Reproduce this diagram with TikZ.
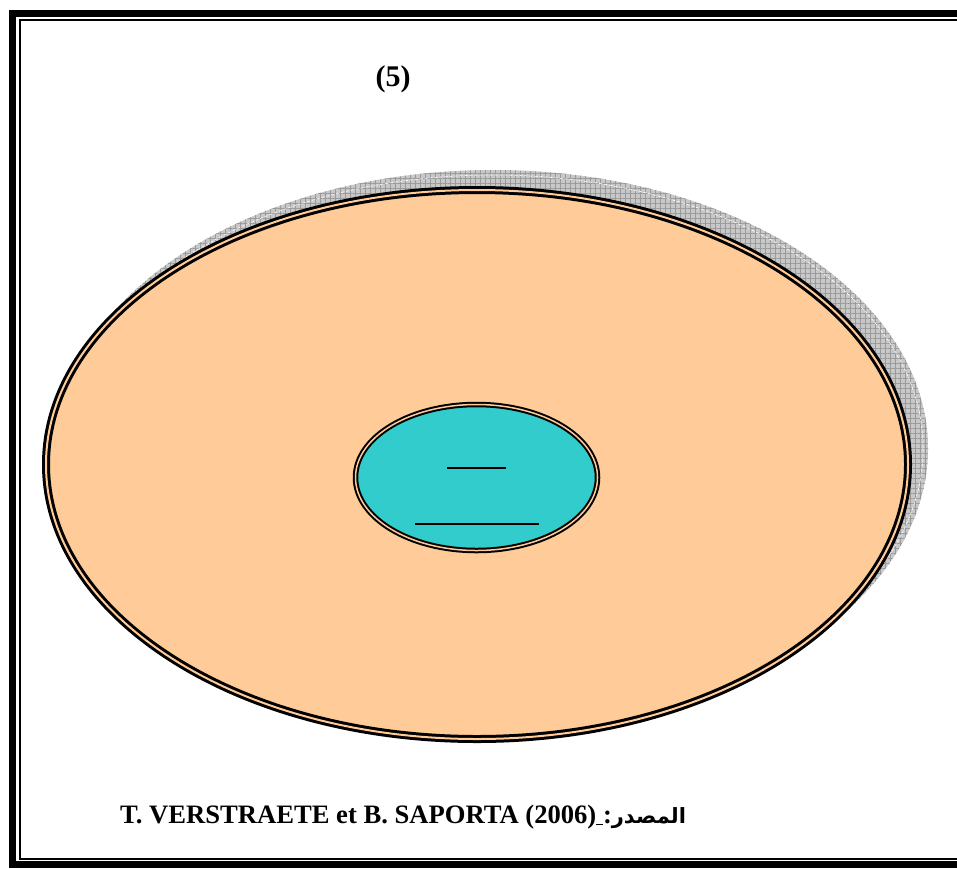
\documentclass[tikz,border=0pt]{standalone}
\usepackage{fontspec}
\setmainfont{Liberation Serif}
\newfontfamily\arabicfont[Script=Arabic]{DejaVu Sans}
\TeXXeTstate=1
\usetikzlibrary{patterns.meta}
\definecolor{peach}{HTML}{FFCC99}
\definecolor{teal2}{HTML}{33CCCC}
\definecolor{shadowgray}{HTML}{C8C8C8}
\definecolor{hatchgray}{HTML}{9A9A9A}
\tikzset{
  outerframe/.style={draw=black,line width=7pt},
  innerframe/.style={draw=black,line width=2pt},
  dblborder/.style={draw=black,double=peach},
  underl/.style={draw=black,line width=2pt},
}
\begin{document}
\begin{tikzpicture}[x=1pt,y=-1pt]
\useasboundingbox (0,0) rectangle (957,868);
\clip (0,0) rectangle (957,868);
\fill[white] (0,0) rectangle (957,868);
% frame
\draw[outerframe] (12,13) rectangle (975,864.5);
\draw[innerframe] (19.5,20) rectangle (968,858.5);
% shadow
\fill[shadowgray] (493,448.5) ellipse [x radius=435, y radius=278.5];
\fill[pattern={Hatch[angle=0,distance=5pt,line width=0.6pt]},pattern color=hatchgray] (493,448.5) ellipse [x radius=435, y radius=278.5];
\draw[white,line width=0.6pt,dash pattern=on 3pt off 2pt] (493,448.5) ellipse [x radius=430, y radius=273.5];
% big ellipse
\draw[dblborder,fill=peach,line width=3pt,double distance=2pt] (477,464.5) ellipse [x radius=431, y radius=274.5];
% inner ellipse
\draw[dblborder,fill=teal2,line width=2pt,double distance=1.5pt] (476.5,477.5) ellipse [x radius=121, y radius=73];
\coordinate (s1) at (447,468);
\coordinate (s2) at (506,468);
\coordinate (l1) at (415,524);
\coordinate (l2) at (539,524);
\draw[underl] (s1) -- (s2);
\draw[underl] (l1) -- (l2);
% texts
\node[anchor=base,inner sep=0pt,font=\fontsize{30}{34}\selectfont\bfseries] (title) at (393,86) {(5)};
\node[anchor=base west,inner sep=0pt,font=\fontsize{26.6}{30}\selectfont\bfseries] (src) at (120,823)
  {T. VERSTRAETE et B. SAPORTA (2006)\underline{\ }:{\arabicfont\fontsize{21}{26}\selectfont\bfseries\beginR المصدر\endR}};
\end{tikzpicture}
\end{document}
